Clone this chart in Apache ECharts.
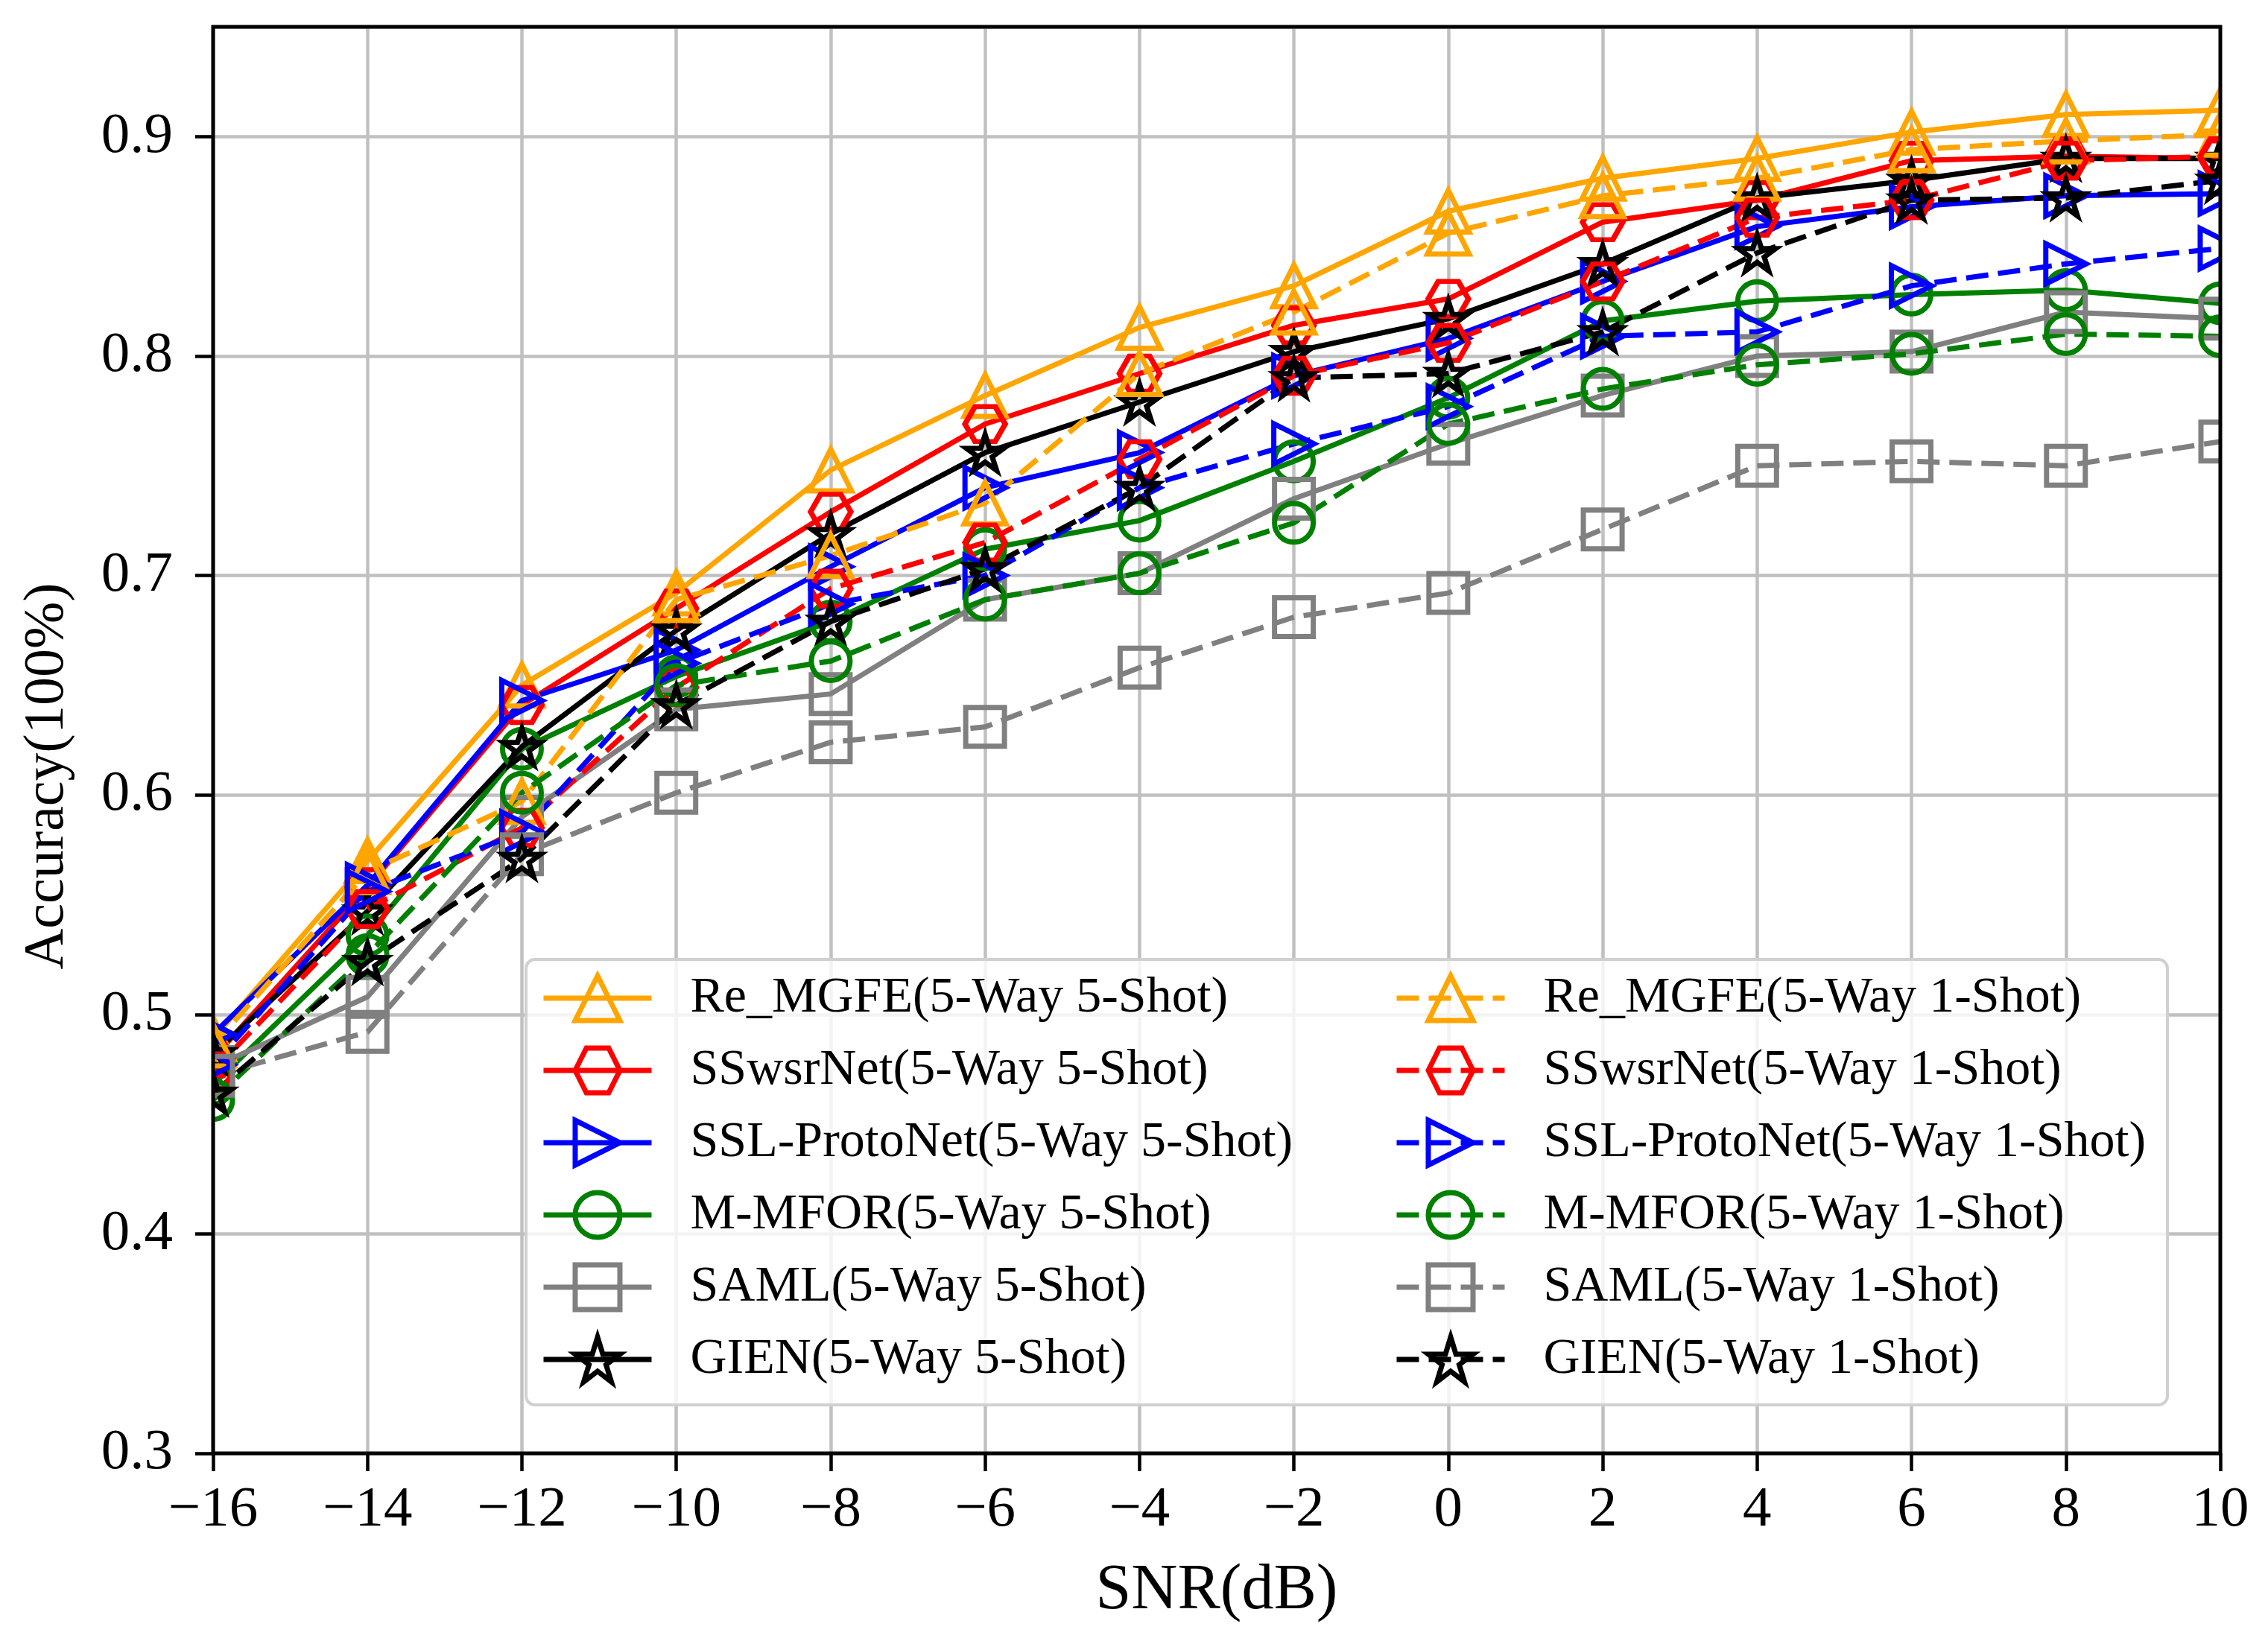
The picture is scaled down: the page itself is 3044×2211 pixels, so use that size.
<!DOCTYPE html>
<html>
<head>
<meta charset="utf-8">
<script src="https://cdn.jsdelivr.net/npm/echarts@6/dist/echarts.min.js"></script>
<style>
html,body{margin:0;padding:0;background:#fff;}
#chart{width:3044px;height:2211px;}
</style>
</head>
<body>
<div id="chart"></div>
<script>
// ---- data ----
const snr = [-16, -14, -12, -10, -8, -6, -4, -2, 0, 2, 4, 6, 8, 10];
const yTicks = [0.3, 0.4, 0.5, 0.6, 0.7, 0.8, 0.9];

const reMGFE5   = [0.489, 0.570, 0.650, 0.692, 0.748, 0.782, 0.813, 0.832, 0.866, 0.881, 0.890, 0.902, 0.910, 0.912];
const ssWsr5    = [0.480, 0.558, 0.641, 0.685, 0.729, 0.769, 0.792, 0.814, 0.826, 0.861, 0.871, 0.889, 0.891, 0.890];
const sslProto5 = [0.491, 0.559, 0.643, 0.666, 0.704, 0.740, 0.756, 0.791, 0.808, 0.834, 0.859, 0.868, 0.873, 0.874];
const mMFOR5    = [0.468, 0.536, 0.621, 0.654, 0.679, 0.712, 0.725, 0.752, 0.781, 0.816, 0.825, 0.828, 0.830, 0.824];
const saml5     = [0.476, 0.508, 0.590, 0.639, 0.646, 0.689, 0.701, 0.735, 0.760, 0.782, 0.800, 0.802, 0.820, 0.817];
const gien5     = [0.482, 0.547, 0.622, 0.675, 0.719, 0.756, 0.779, 0.802, 0.817, 0.842, 0.872, 0.880, 0.890, 0.890];

const reMGFE1   = [0.486, 0.565, 0.597, 0.689, 0.709, 0.733, 0.792, 0.820, 0.856, 0.873, 0.881, 0.894, 0.898, 0.901];
const ssWsr1    = [0.474, 0.548, 0.585, 0.649, 0.694, 0.715, 0.753, 0.791, 0.806, 0.834, 0.863, 0.871, 0.889, 0.891];
const sslProto1 = [0.477, 0.556, 0.583, 0.660, 0.687, 0.700, 0.740, 0.760, 0.777, 0.809, 0.811, 0.832, 0.842, 0.849];
const mMFOR1    = [0.461, 0.527, 0.601, 0.650, 0.661, 0.689, 0.701, 0.724, 0.769, 0.785, 0.796, 0.801, 0.810, 0.809];
const saml1     = [0.472, 0.492, 0.573, 0.601, 0.624, 0.631, 0.658, 0.681, 0.692, 0.721, 0.750, 0.752, 0.750, 0.761];
const gien1     = [0.464, 0.524, 0.571, 0.641, 0.679, 0.703, 0.740, 0.790, 0.792, 0.811, 0.847, 0.871, 0.872, 0.880];

const names5 = ['Re_MGFE(5-Way 5-Shot)', 'SSwsrNet(5-Way 5-Shot)', 'SSL-ProtoNet(5-Way 5-Shot)', 'M-MFOR(5-Way 5-Shot)', 'SAML(5-Way 5-Shot)', 'GIEN(5-Way 5-Shot)'];
const names1 = ['Re_MGFE(5-Way 1-Shot)', 'SSwsrNet(5-Way 1-Shot)', 'SSL-ProtoNet(5-Way 1-Shot)', 'M-MFOR(5-Way 1-Shot)', 'SAML(5-Way 1-Shot)', 'GIEN(5-Way 1-Shot)'];

// ---- styles ----
const FONT = 'Liberation Serif';
const colors = ['#FFA500', '#FF0000', '#0000FF', '#008000', '#808080', '#000000'];
const HEX = 'path://M-1,0 L-0.5,-0.866 L0.5,-0.866 L1,0 L0.5,0.866 L-0.5,0.866 Z';
const RTRI = 'path://M0,0 L2,1 L0,2 Z';
const STAR = 'path://M0,-1 L0.2245,-0.309 L0.9511,-0.309 L0.3633,0.118 L0.5878,0.809 L0,0.382 L-0.5878,0.809 L-0.3633,0.118 L-0.9511,-0.309 L-0.2245,-0.309 Z';
const symbols = ['triangle', HEX, RTRI, 'circle', 'rect', STAR];
const symSizes = [56, [54, 47], 54, 52, 52, [50, 48]];

const data5 = [reMGFE5, ssWsr5, sslProto5, mMFOR5, saml5, gien5];
const data1 = [reMGFE1, ssWsr1, sslProto1, mMFOR1, saml1, gien1];

const LW = 7;
function mkSeries(name, vals, i, dashed) {
  return {
    type: 'line',
    name: name,
    data: snr.map((x, k) => [x, vals[k]]),
    symbol: symbols[i],
    symbolSize: symSizes[i],
    showAllSymbol: true,
    z: 2,
    itemStyle: { color: 'rgba(255,255,255,0)', borderColor: colors[i], borderWidth: LW },
    lineStyle: { color: colors[i], width: LW, type: dashed ? [30, 13] : 'solid' },
    emphasis: { disabled: true },
    animation: false
  };
}
const series = [];
names5.forEach((n, i) => series.push(mkSeries(n, data5[i], i, false)));
names1.forEach((n, i) => series.push(mkSeries(n, data1[i], i, true)));

const G = { left: 286, right: 64, top: 36, bottom: 260 };
const plotW = 3044 - G.left - G.right;
const plotH = 2211 - G.top - G.bottom;

const legendCommon = {
  orient: 'vertical',
  top: 1306,
  padding: 0,
  itemWidth: 145,
  itemHeight: 75,
  itemGap: 29,
  selectedMode: false,
  z: 4,
  itemStyle: { borderWidth: LW },
  lineStyle: { width: LW },
  textStyle: { fontFamily: FONT, fontSize: 68, color: '#000', padding: [0, 0, 0, 47] }
};

const option = {
  animation: false,
  backgroundColor: '#fff',
  grid: { left: G.left, right: G.right, top: G.top, bottom: G.bottom, containLabel: false },
  xAxis: {
    type: 'value', min: -16, max: 10, interval: 2,
    name: 'SNR(dB)', nameLocation: 'middle', nameGap: 142,
    nameTextStyle: { fontFamily: FONT, fontSize: 86, color: '#000' },
    axisLine: { show: false },
    axisTick: { show: true, inside: false, length: 24, lineStyle: { color: '#000', width: 4.5 } },
    axisLabel: { margin: 38, fontFamily: FONT, fontSize: 77, color: '#000',
      formatter: v => (v < 0 ? '\u2212' + Math.abs(v) : String(v)) },
    splitLine: { show: true, lineStyle: { color: '#c0c0c0', width: 4.5 } },
    z: 0
  },
  yAxis: [
    {
      type: 'value', min: 0.3, max: 0.95, interval: 0.1,
      axisLine: { show: false }, axisTick: { show: false }, axisLabel: { show: false },
      splitLine: { show: true, lineStyle: { color: '#c0c0c0', width: 4.5 } },
      z: 0
    },
    {
      type: 'value', min: 0.3, max: 0.95, interval: 0.1, position: 'left',
      axisLine: { show: false },
      axisTick: { show: true, inside: false, length: 24, lineStyle: { color: '#000', width: 4.5 }, customValues: yTicks },
      axisLabel: { margin: 54, fontFamily: FONT, fontSize: 77, color: '#000', customValues: yTicks,
        formatter: v => v.toFixed(1) },
      splitLine: { show: false },
      z: 12
    }
  ],
  legend: [
    Object.assign({}, legendCommon, { left: 726, data: names5 }),
    Object.assign({}, legendCommon, { left: 1871, data: names1 })
  ],
  graphic: [
    // legend frame (semi-transparent like matplotlib)
    { type: 'rect', z: 3, shape: { x: 706, y: 1288, width: 2203, height: 598, r: 12 },
      style: { fill: 'rgba(255,255,255,0.8)', stroke: '#d0d0d0', lineWidth: 4 } },
    // clip markers outside axes (matplotlib clips at the spines)
    { type: 'rect', z: 10, shape: { x: 200, y: G.top, width: G.left - 200, height: plotH },
      style: { fill: '#fff' } },
    { type: 'rect', z: 10, shape: { x: G.left + plotW, y: G.top, width: 3044 - G.left - plotW, height: plotH },
      style: { fill: '#fff' } },
    // spines
    { type: 'rect', z: 11, shape: { x: G.left, y: G.top, width: plotW, height: plotH },
      style: { fill: 'none', stroke: '#000', lineWidth: 5 } },
    // y-axis title
    { type: 'text', z: 12, x: 64, y: 1042, rotation: Math.PI / 2,
      style: { text: 'Accuracy(100%)', fontFamily: FONT, fontSize: 76, fill: '#000',
        textAlign: 'center', textVerticalAlign: 'middle' } }
  ],
  series: series
};

const chart = echarts.init(document.getElementById('chart'), null, { renderer: 'canvas' });
chart.setOption(option);
</script>
</body>
</html>
